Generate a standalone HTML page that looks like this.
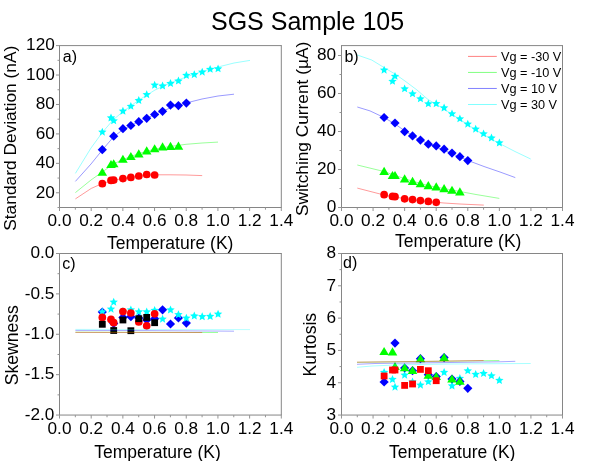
<!DOCTYPE html>
<html><head><meta charset="utf-8"><title>SGS Sample 105</title>
<style>
html,body{margin:0;padding:0;background:#fff;}
svg{display:block;will-change:transform;}
text{font-family:"Liberation Sans",sans-serif;}
</style></head>
<body>
<svg width="599" height="461" viewBox="0 0 599 461">
<rect x="0" y="0" width="599" height="461" fill="#fff"/>
<g font-family="'Liberation Sans', sans-serif" fill="#000">
<line x1="59" y1="45.6" x2="281.8" y2="45.6" stroke="#868686" stroke-width="1"/>
<line x1="59" y1="207.5" x2="281.8" y2="207.5" stroke="#868686" stroke-width="1"/>
<line x1="59.5" y1="45.6" x2="59.5" y2="207.5" stroke="#868686" stroke-width="1"/>
<line x1="281.3" y1="45.6" x2="281.3" y2="207.5" stroke="#868686" stroke-width="1"/>
<line x1="59.5" y1="207.5" x2="59.5" y2="211" stroke="#949494" stroke-width="1"/>
<text x="59.5" y="226.2" font-size="17.2" text-anchor="middle" >0.0</text>
<line x1="75.34" y1="207.5" x2="75.34" y2="209.7" stroke="#949494" stroke-width="1"/>
<line x1="91.19" y1="207.5" x2="91.19" y2="211" stroke="#949494" stroke-width="1"/>
<text x="91.19" y="226.2" font-size="17.2" text-anchor="middle" >0.2</text>
<line x1="107.03" y1="207.5" x2="107.03" y2="209.7" stroke="#949494" stroke-width="1"/>
<line x1="122.87" y1="207.5" x2="122.87" y2="211" stroke="#949494" stroke-width="1"/>
<text x="122.87" y="226.2" font-size="17.2" text-anchor="middle" >0.4</text>
<line x1="138.71" y1="207.5" x2="138.71" y2="209.7" stroke="#949494" stroke-width="1"/>
<line x1="154.56" y1="207.5" x2="154.56" y2="211" stroke="#949494" stroke-width="1"/>
<text x="154.56" y="226.2" font-size="17.2" text-anchor="middle" >0.6</text>
<line x1="170.4" y1="207.5" x2="170.4" y2="209.7" stroke="#949494" stroke-width="1"/>
<line x1="186.24" y1="207.5" x2="186.24" y2="211" stroke="#949494" stroke-width="1"/>
<text x="186.24" y="226.2" font-size="17.2" text-anchor="middle" >0.8</text>
<line x1="202.09" y1="207.5" x2="202.09" y2="209.7" stroke="#949494" stroke-width="1"/>
<line x1="217.93" y1="207.5" x2="217.93" y2="211" stroke="#949494" stroke-width="1"/>
<text x="217.93" y="226.2" font-size="17.2" text-anchor="middle" >1.0</text>
<line x1="233.77" y1="207.5" x2="233.77" y2="209.7" stroke="#949494" stroke-width="1"/>
<line x1="249.61" y1="207.5" x2="249.61" y2="211" stroke="#949494" stroke-width="1"/>
<text x="249.61" y="226.2" font-size="17.2" text-anchor="middle" >1.2</text>
<line x1="265.46" y1="207.5" x2="265.46" y2="209.7" stroke="#949494" stroke-width="1"/>
<line x1="281.3" y1="207.5" x2="281.3" y2="211" stroke="#949494" stroke-width="1"/>
<text x="281.3" y="226.2" font-size="17.2" text-anchor="middle" >1.4</text>
<line x1="56" y1="192.78" x2="59.5" y2="192.78" stroke="#949494" stroke-width="1"/>
<text x="54.8" y="197.58" font-size="17.2" text-anchor="end" >20</text>
<line x1="56" y1="163.35" x2="59.5" y2="163.35" stroke="#949494" stroke-width="1"/>
<text x="54.8" y="168.15" font-size="17.2" text-anchor="end" >40</text>
<line x1="56" y1="133.91" x2="59.5" y2="133.91" stroke="#949494" stroke-width="1"/>
<text x="54.8" y="138.71" font-size="17.2" text-anchor="end" >60</text>
<line x1="56" y1="104.47" x2="59.5" y2="104.47" stroke="#949494" stroke-width="1"/>
<text x="54.8" y="109.27" font-size="17.2" text-anchor="end" >80</text>
<line x1="56" y1="75.04" x2="59.5" y2="75.04" stroke="#949494" stroke-width="1"/>
<text x="54.8" y="79.84" font-size="17.2" text-anchor="end" >100</text>
<line x1="56" y1="45.6" x2="59.5" y2="45.6" stroke="#949494" stroke-width="1"/>
<text x="54.8" y="50.4" font-size="17.2" text-anchor="end" >120</text>
<line x1="57.5" y1="207.5" x2="59.5" y2="207.5" stroke="#949494" stroke-width="1"/>
<line x1="57.5" y1="178.06" x2="59.5" y2="178.06" stroke="#949494" stroke-width="1"/>
<line x1="57.5" y1="148.63" x2="59.5" y2="148.63" stroke="#949494" stroke-width="1"/>
<line x1="57.5" y1="119.19" x2="59.5" y2="119.19" stroke="#949494" stroke-width="1"/>
<line x1="57.5" y1="89.75" x2="59.5" y2="89.75" stroke="#949494" stroke-width="1"/>
<line x1="57.5" y1="60.32" x2="59.5" y2="60.32" stroke="#949494" stroke-width="1"/>
<line x1="341" y1="45.6" x2="563" y2="45.6" stroke="#868686" stroke-width="1"/>
<line x1="341" y1="207.5" x2="563" y2="207.5" stroke="#868686" stroke-width="1"/>
<line x1="341.5" y1="45.6" x2="341.5" y2="207.5" stroke="#868686" stroke-width="1"/>
<line x1="562.5" y1="45.6" x2="562.5" y2="207.5" stroke="#868686" stroke-width="1"/>
<line x1="341.5" y1="207.5" x2="341.5" y2="211" stroke="#949494" stroke-width="1"/>
<text x="341.5" y="226.2" font-size="17.2" text-anchor="middle" >0.0</text>
<line x1="357.29" y1="207.5" x2="357.29" y2="209.7" stroke="#949494" stroke-width="1"/>
<line x1="373.07" y1="207.5" x2="373.07" y2="211" stroke="#949494" stroke-width="1"/>
<text x="373.07" y="226.2" font-size="17.2" text-anchor="middle" >0.2</text>
<line x1="388.86" y1="207.5" x2="388.86" y2="209.7" stroke="#949494" stroke-width="1"/>
<line x1="404.64" y1="207.5" x2="404.64" y2="211" stroke="#949494" stroke-width="1"/>
<text x="404.64" y="226.2" font-size="17.2" text-anchor="middle" >0.4</text>
<line x1="420.43" y1="207.5" x2="420.43" y2="209.7" stroke="#949494" stroke-width="1"/>
<line x1="436.21" y1="207.5" x2="436.21" y2="211" stroke="#949494" stroke-width="1"/>
<text x="436.21" y="226.2" font-size="17.2" text-anchor="middle" >0.6</text>
<line x1="452" y1="207.5" x2="452" y2="209.7" stroke="#949494" stroke-width="1"/>
<line x1="467.79" y1="207.5" x2="467.79" y2="211" stroke="#949494" stroke-width="1"/>
<text x="467.79" y="226.2" font-size="17.2" text-anchor="middle" >0.8</text>
<line x1="483.57" y1="207.5" x2="483.57" y2="209.7" stroke="#949494" stroke-width="1"/>
<line x1="499.36" y1="207.5" x2="499.36" y2="211" stroke="#949494" stroke-width="1"/>
<text x="499.36" y="226.2" font-size="17.2" text-anchor="middle" >1.0</text>
<line x1="515.14" y1="207.5" x2="515.14" y2="209.7" stroke="#949494" stroke-width="1"/>
<line x1="530.93" y1="207.5" x2="530.93" y2="211" stroke="#949494" stroke-width="1"/>
<text x="530.93" y="226.2" font-size="17.2" text-anchor="middle" >1.2</text>
<line x1="546.71" y1="207.5" x2="546.71" y2="209.7" stroke="#949494" stroke-width="1"/>
<line x1="562.5" y1="207.5" x2="562.5" y2="211" stroke="#949494" stroke-width="1"/>
<text x="562.5" y="226.2" font-size="17.2" text-anchor="middle" >1.4</text>
<line x1="338" y1="207.5" x2="341.5" y2="207.5" stroke="#949494" stroke-width="1"/>
<text x="336.2" y="212.3" font-size="17.2" text-anchor="end" >0</text>
<line x1="338" y1="169.5" x2="341.5" y2="169.5" stroke="#949494" stroke-width="1"/>
<text x="336.2" y="174.3" font-size="17.2" text-anchor="end" >20</text>
<line x1="338" y1="131.5" x2="341.5" y2="131.5" stroke="#949494" stroke-width="1"/>
<text x="336.2" y="136.3" font-size="17.2" text-anchor="end" >40</text>
<line x1="338" y1="93.5" x2="341.5" y2="93.5" stroke="#949494" stroke-width="1"/>
<text x="336.2" y="98.3" font-size="17.2" text-anchor="end" >60</text>
<line x1="338" y1="55.5" x2="341.5" y2="55.5" stroke="#949494" stroke-width="1"/>
<text x="336.2" y="60.3" font-size="17.2" text-anchor="end" >80</text>
<line x1="339.5" y1="188.5" x2="341.5" y2="188.5" stroke="#949494" stroke-width="1"/>
<line x1="339.5" y1="150.5" x2="341.5" y2="150.5" stroke="#949494" stroke-width="1"/>
<line x1="339.5" y1="112.5" x2="341.5" y2="112.5" stroke="#949494" stroke-width="1"/>
<line x1="339.5" y1="74.5" x2="341.5" y2="74.5" stroke="#949494" stroke-width="1"/>
<line x1="59" y1="253.5" x2="281.8" y2="253.5" stroke="#868686" stroke-width="1"/>
<line x1="59" y1="415.05" x2="281.8" y2="415.05" stroke="#868686" stroke-width="1"/>
<line x1="59.5" y1="253.5" x2="59.5" y2="415.05" stroke="#868686" stroke-width="1"/>
<line x1="281.3" y1="253.5" x2="281.3" y2="415.05" stroke="#868686" stroke-width="1"/>
<line x1="59.5" y1="415.05" x2="59.5" y2="418.55" stroke="#949494" stroke-width="1"/>
<text x="59.5" y="434.2" font-size="17.2" text-anchor="middle" >0.0</text>
<line x1="75.34" y1="415.05" x2="75.34" y2="417.25" stroke="#949494" stroke-width="1"/>
<line x1="91.19" y1="415.05" x2="91.19" y2="418.55" stroke="#949494" stroke-width="1"/>
<text x="91.19" y="434.2" font-size="17.2" text-anchor="middle" >0.2</text>
<line x1="107.03" y1="415.05" x2="107.03" y2="417.25" stroke="#949494" stroke-width="1"/>
<line x1="122.87" y1="415.05" x2="122.87" y2="418.55" stroke="#949494" stroke-width="1"/>
<text x="122.87" y="434.2" font-size="17.2" text-anchor="middle" >0.4</text>
<line x1="138.71" y1="415.05" x2="138.71" y2="417.25" stroke="#949494" stroke-width="1"/>
<line x1="154.56" y1="415.05" x2="154.56" y2="418.55" stroke="#949494" stroke-width="1"/>
<text x="154.56" y="434.2" font-size="17.2" text-anchor="middle" >0.6</text>
<line x1="170.4" y1="415.05" x2="170.4" y2="417.25" stroke="#949494" stroke-width="1"/>
<line x1="186.24" y1="415.05" x2="186.24" y2="418.55" stroke="#949494" stroke-width="1"/>
<text x="186.24" y="434.2" font-size="17.2" text-anchor="middle" >0.8</text>
<line x1="202.09" y1="415.05" x2="202.09" y2="417.25" stroke="#949494" stroke-width="1"/>
<line x1="217.93" y1="415.05" x2="217.93" y2="418.55" stroke="#949494" stroke-width="1"/>
<text x="217.93" y="434.2" font-size="17.2" text-anchor="middle" >1.0</text>
<line x1="233.77" y1="415.05" x2="233.77" y2="417.25" stroke="#949494" stroke-width="1"/>
<line x1="249.61" y1="415.05" x2="249.61" y2="418.55" stroke="#949494" stroke-width="1"/>
<text x="249.61" y="434.2" font-size="17.2" text-anchor="middle" >1.2</text>
<line x1="265.46" y1="415.05" x2="265.46" y2="417.25" stroke="#949494" stroke-width="1"/>
<line x1="281.3" y1="415.05" x2="281.3" y2="418.55" stroke="#949494" stroke-width="1"/>
<text x="281.3" y="434.2" font-size="17.2" text-anchor="middle" >1.4</text>
<line x1="56" y1="253.5" x2="59.5" y2="253.5" stroke="#949494" stroke-width="1"/>
<text x="54.4" y="258.3" font-size="17.2" text-anchor="end" >0.0</text>
<line x1="56" y1="293.89" x2="59.5" y2="293.89" stroke="#949494" stroke-width="1"/>
<text x="54.4" y="298.69" font-size="17.2" text-anchor="end" >-0.5</text>
<line x1="56" y1="334.27" x2="59.5" y2="334.27" stroke="#949494" stroke-width="1"/>
<text x="54.4" y="339.07" font-size="17.2" text-anchor="end" >-1.0</text>
<line x1="56" y1="374.66" x2="59.5" y2="374.66" stroke="#949494" stroke-width="1"/>
<text x="54.4" y="379.46" font-size="17.2" text-anchor="end" >-1.5</text>
<line x1="56" y1="415.05" x2="59.5" y2="415.05" stroke="#949494" stroke-width="1"/>
<text x="54.4" y="419.85" font-size="17.2" text-anchor="end" >-2.0</text>
<line x1="57.5" y1="273.69" x2="59.5" y2="273.69" stroke="#949494" stroke-width="1"/>
<line x1="57.5" y1="314.08" x2="59.5" y2="314.08" stroke="#949494" stroke-width="1"/>
<line x1="57.5" y1="354.47" x2="59.5" y2="354.47" stroke="#949494" stroke-width="1"/>
<line x1="57.5" y1="394.86" x2="59.5" y2="394.86" stroke="#949494" stroke-width="1"/>
<line x1="341" y1="253.5" x2="563" y2="253.5" stroke="#868686" stroke-width="1"/>
<line x1="341" y1="415.05" x2="563" y2="415.05" stroke="#868686" stroke-width="1"/>
<line x1="341.5" y1="253.5" x2="341.5" y2="415.05" stroke="#868686" stroke-width="1"/>
<line x1="562.5" y1="253.5" x2="562.5" y2="415.05" stroke="#868686" stroke-width="1"/>
<line x1="341.5" y1="415.05" x2="341.5" y2="418.55" stroke="#949494" stroke-width="1"/>
<text x="341.5" y="434.2" font-size="17.2" text-anchor="middle" >0.0</text>
<line x1="357.29" y1="415.05" x2="357.29" y2="417.25" stroke="#949494" stroke-width="1"/>
<line x1="373.07" y1="415.05" x2="373.07" y2="418.55" stroke="#949494" stroke-width="1"/>
<text x="373.07" y="434.2" font-size="17.2" text-anchor="middle" >0.2</text>
<line x1="388.86" y1="415.05" x2="388.86" y2="417.25" stroke="#949494" stroke-width="1"/>
<line x1="404.64" y1="415.05" x2="404.64" y2="418.55" stroke="#949494" stroke-width="1"/>
<text x="404.64" y="434.2" font-size="17.2" text-anchor="middle" >0.4</text>
<line x1="420.43" y1="415.05" x2="420.43" y2="417.25" stroke="#949494" stroke-width="1"/>
<line x1="436.21" y1="415.05" x2="436.21" y2="418.55" stroke="#949494" stroke-width="1"/>
<text x="436.21" y="434.2" font-size="17.2" text-anchor="middle" >0.6</text>
<line x1="452" y1="415.05" x2="452" y2="417.25" stroke="#949494" stroke-width="1"/>
<line x1="467.79" y1="415.05" x2="467.79" y2="418.55" stroke="#949494" stroke-width="1"/>
<text x="467.79" y="434.2" font-size="17.2" text-anchor="middle" >0.8</text>
<line x1="483.57" y1="415.05" x2="483.57" y2="417.25" stroke="#949494" stroke-width="1"/>
<line x1="499.36" y1="415.05" x2="499.36" y2="418.55" stroke="#949494" stroke-width="1"/>
<text x="499.36" y="434.2" font-size="17.2" text-anchor="middle" >1.0</text>
<line x1="515.14" y1="415.05" x2="515.14" y2="417.25" stroke="#949494" stroke-width="1"/>
<line x1="530.93" y1="415.05" x2="530.93" y2="418.55" stroke="#949494" stroke-width="1"/>
<text x="530.93" y="434.2" font-size="17.2" text-anchor="middle" >1.2</text>
<line x1="546.71" y1="415.05" x2="546.71" y2="417.25" stroke="#949494" stroke-width="1"/>
<line x1="562.5" y1="415.05" x2="562.5" y2="418.55" stroke="#949494" stroke-width="1"/>
<text x="562.5" y="434.2" font-size="17.2" text-anchor="middle" >1.4</text>
<line x1="338" y1="415.05" x2="341.5" y2="415.05" stroke="#949494" stroke-width="1"/>
<text x="336" y="419.85" font-size="17.2" text-anchor="end" >3</text>
<line x1="338" y1="382.74" x2="341.5" y2="382.74" stroke="#949494" stroke-width="1"/>
<text x="336" y="387.54" font-size="17.2" text-anchor="end" >4</text>
<line x1="338" y1="350.43" x2="341.5" y2="350.43" stroke="#949494" stroke-width="1"/>
<text x="336" y="355.23" font-size="17.2" text-anchor="end" >5</text>
<line x1="338" y1="318.12" x2="341.5" y2="318.12" stroke="#949494" stroke-width="1"/>
<text x="336" y="322.92" font-size="17.2" text-anchor="end" >6</text>
<line x1="338" y1="285.81" x2="341.5" y2="285.81" stroke="#949494" stroke-width="1"/>
<text x="336" y="290.61" font-size="17.2" text-anchor="end" >7</text>
<line x1="338" y1="253.5" x2="341.5" y2="253.5" stroke="#949494" stroke-width="1"/>
<text x="336" y="258.3" font-size="17.2" text-anchor="end" >8</text>
<line x1="339.5" y1="398.89" x2="341.5" y2="398.89" stroke="#949494" stroke-width="1"/>
<line x1="339.5" y1="366.59" x2="341.5" y2="366.59" stroke="#949494" stroke-width="1"/>
<line x1="339.5" y1="334.27" x2="341.5" y2="334.27" stroke="#949494" stroke-width="1"/>
<line x1="339.5" y1="301.97" x2="341.5" y2="301.97" stroke="#949494" stroke-width="1"/>
<line x1="339.5" y1="269.65" x2="341.5" y2="269.65" stroke="#949494" stroke-width="1"/>
<text x="307.6" y="29.6" font-size="25" text-anchor="middle" >SGS Sample 105</text>
<text x="107" y="249" font-size="17.5" text-anchor="start" >Temperature (K)</text>
<text x="395" y="246.7" font-size="17.5" text-anchor="start" >Temperature (K)</text>
<text x="94.3" y="458.3" font-size="17.5" text-anchor="start" >Temperature (K)</text>
<text x="389" y="457.6" font-size="17.5" text-anchor="start" >Temperature (K)</text>
<text transform="translate(16.4,230.8) rotate(-90)" font-size="17.35">Standard Deviation (nA)</text>
<text transform="translate(307.8,216) rotate(-90)" font-size="17.3">Switching Current (&#181;A)</text>
<text transform="translate(18.1,385.3) rotate(-90)" font-size="17.6">Skewness</text>
<text transform="translate(316.2,376.4) rotate(-90)" font-size="17.6">Kurtosis</text>
<text x="62.8" y="61.8" font-size="16" text-anchor="start" >a)</text>
<text x="344.4" y="62" font-size="16" text-anchor="start" >b)</text>
<text x="62.3" y="269" font-size="16" text-anchor="start" >c)</text>
<text x="343.1" y="268.2" font-size="16" text-anchor="start" >d)</text>
<polyline points="468,56.4 496.8,56.4" fill="none" stroke="#ff0000" stroke-width="0.5" stroke-opacity="1"/>
<text x="501" y="60.6" font-size="12.7" text-anchor="start" >Vg = -30 V</text>
<polyline points="468,72.43 496.8,72.43" fill="none" stroke="#00ff00" stroke-width="0.5" stroke-opacity="1"/>
<text x="501" y="76.6" font-size="12.7" text-anchor="start" >Vg = -10 V</text>
<polyline points="468,88.46 496.8,88.46" fill="none" stroke="#0000ff" stroke-width="0.5" stroke-opacity="1"/>
<text x="501" y="92.6" font-size="12.7" text-anchor="start" >Vg = 10 V</text>
<polyline points="468,104.49 496.8,104.49" fill="none" stroke="#00ffff" stroke-width="0.5" stroke-opacity="1"/>
<text x="501" y="108.6" font-size="12.7" text-anchor="start" >Vg = 30 V</text>
<polygon points="102.31,127.7 103.5,130.46 106.5,130.74 104.24,132.73 104.9,135.66 102.31,134.12 99.73,135.66 100.39,132.73 98.13,130.74 101.12,130.46" fill="#00ffff"/>
<polygon points="111,113.5 112.19,116.26 115.18,116.54 112.92,118.53 113.59,121.46 111,119.92 108.41,121.46 109.08,118.53 106.82,116.54 109.81,116.26" fill="#00ffff"/>
<polygon points="113.7,116.4 114.89,119.16 117.88,119.44 115.62,121.43 116.29,124.36 113.7,122.82 111.11,124.36 111.78,121.43 109.52,119.44 112.51,119.16" fill="#00ffff"/>
<polygon points="122.93,106.8 124.12,109.56 127.11,109.84 124.85,111.83 125.51,114.76 122.93,113.22 120.34,114.76 121,111.83 118.74,109.84 121.74,109.56" fill="#00ffff"/>
<polygon points="130.86,101.9 132.05,104.66 135.04,104.94 132.78,106.93 133.44,109.86 130.86,108.32 128.27,109.86 128.93,106.93 126.67,104.94 129.67,104.66" fill="#00ffff"/>
<polygon points="138.78,96.1 139.97,98.86 142.97,99.14 140.71,101.13 141.37,104.06 138.78,102.52 136.2,104.06 136.86,101.13 134.6,99.14 137.6,98.86" fill="#00ffff"/>
<polygon points="146.71,90.2 147.9,92.96 150.9,93.24 148.64,95.23 149.3,98.16 146.71,96.62 144.13,98.16 144.79,95.23 142.53,93.24 145.52,92.96" fill="#00ffff"/>
<polygon points="154.64,80.8 155.83,83.56 158.83,83.84 156.57,85.83 157.23,88.76 154.64,87.22 152.06,88.76 152.72,85.83 150.46,83.84 153.45,83.56" fill="#00ffff"/>
<polygon points="162.57,81.6 163.76,84.36 166.76,84.64 164.5,86.63 165.16,89.56 162.57,88.02 159.98,89.56 160.65,86.63 158.39,84.64 161.38,84.36" fill="#00ffff"/>
<polygon points="170.5,79.1 171.69,81.86 174.68,82.14 172.42,84.13 173.09,87.06 170.5,85.52 167.91,87.06 168.57,84.13 166.31,82.14 169.31,81.86" fill="#00ffff"/>
<polygon points="178.43,76.6 179.62,79.36 182.61,79.64 180.35,81.63 181.01,84.56 178.43,83.02 175.84,84.56 176.5,81.63 174.24,79.64 177.24,79.36" fill="#00ffff"/>
<polygon points="186.36,71 187.55,73.76 190.54,74.04 188.28,76.03 188.94,78.96 186.36,77.42 183.77,78.96 184.43,76.03 182.17,74.04 185.17,73.76" fill="#00ffff"/>
<polygon points="194.28,70.2 195.47,72.96 198.47,73.24 196.21,75.23 196.87,78.16 194.28,76.62 191.7,78.16 192.36,75.23 190.1,73.24 193.09,72.96" fill="#00ffff"/>
<polygon points="202.21,67.7 203.4,70.46 206.4,70.74 204.14,72.73 204.8,75.66 202.21,74.12 199.63,75.66 200.29,72.73 198.03,70.74 201.02,70.46" fill="#00ffff"/>
<polygon points="210.14,64.9 211.33,67.66 214.33,67.94 212.07,69.93 212.73,72.86 210.14,71.32 207.56,72.86 208.22,69.93 205.96,67.94 208.95,67.66" fill="#00ffff"/>
<polygon points="218.07,64.4 219.26,67.16 222.25,67.44 219.99,69.43 220.66,72.36 218.07,70.82 215.48,72.36 216.15,69.43 213.89,67.44 216.88,67.16" fill="#00ffff"/>
<polygon points="102.31,145.1 106.91,149.7 102.31,154.3 97.71,149.7" fill="#0000ff"/>
<polygon points="113.7,131.6 118.3,136.2 113.7,140.8 109.1,136.2" fill="#0000ff"/>
<polygon points="122.93,124.1 127.53,128.7 122.93,133.3 118.33,128.7" fill="#0000ff"/>
<polygon points="130.86,120.9 135.46,125.5 130.86,130.1 126.26,125.5" fill="#0000ff"/>
<polygon points="138.78,117.1 143.38,121.7 138.78,126.3 134.19,121.7" fill="#0000ff"/>
<polygon points="146.71,113.7 151.31,118.3 146.71,122.9 142.11,118.3" fill="#0000ff"/>
<polygon points="154.64,109.9 159.24,114.5 154.64,119.1 150.04,114.5" fill="#0000ff"/>
<polygon points="162.57,106.7 167.17,111.3 162.57,115.9 157.97,111.3" fill="#0000ff"/>
<polygon points="170.5,100.5 175.1,105.1 170.5,109.7 165.9,105.1" fill="#0000ff"/>
<polygon points="178.43,101 183.03,105.6 178.43,110.2 173.83,105.6" fill="#0000ff"/>
<polygon points="186.36,98.5 190.96,103.1 186.36,107.7 181.76,103.1" fill="#0000ff"/>
<polygon points="102.31,167.65 107.11,175.75 97.51,175.75" fill="#00ff00"/>
<polygon points="111,159.95 115.8,168.05 106.2,168.05" fill="#00ff00"/>
<polygon points="113.7,159.25 118.5,167.35 108.9,167.35" fill="#00ff00"/>
<polygon points="122.93,154.75 127.73,162.85 118.13,162.85" fill="#00ff00"/>
<polygon points="130.86,151.95 135.66,160.05 126.06,160.05" fill="#00ff00"/>
<polygon points="138.78,149.35 143.59,157.45 133.98,157.45" fill="#00ff00"/>
<polygon points="146.71,146.35 151.51,154.45 141.91,154.45" fill="#00ff00"/>
<polygon points="154.64,144.15 159.44,152.25 149.84,152.25" fill="#00ff00"/>
<polygon points="162.57,142.35 167.37,150.45 157.77,150.45" fill="#00ff00"/>
<polygon points="170.5,141.85 175.3,149.95 165.7,149.95" fill="#00ff00"/>
<polygon points="178.43,141.55 183.23,149.65 173.63,149.65" fill="#00ff00"/>
<circle cx="102.31" cy="183.7" r="3.85" fill="#ff0000"/>
<circle cx="111" cy="180.4" r="3.85" fill="#ff0000"/>
<circle cx="113.7" cy="180.1" r="3.85" fill="#ff0000"/>
<circle cx="122.93" cy="178.6" r="3.85" fill="#ff0000"/>
<circle cx="130.86" cy="177.4" r="3.85" fill="#ff0000"/>
<circle cx="138.78" cy="176" r="3.85" fill="#ff0000"/>
<circle cx="146.71" cy="174.5" r="3.85" fill="#ff0000"/>
<circle cx="154.64" cy="175" r="3.85" fill="#ff0000"/>
<polygon points="384.12,65.7 385.31,68.46 388.31,68.74 386.05,70.73 386.71,73.66 384.12,72.12 381.54,73.66 382.2,70.73 379.94,68.74 382.93,68.46" fill="#00ffff"/>
<polygon points="392.5,76.9 393.69,79.66 396.68,79.94 394.42,81.93 395.09,84.86 392.5,83.32 389.91,84.86 390.58,81.93 388.32,79.94 391.31,79.66" fill="#00ffff"/>
<polygon points="395,71.9 396.19,74.66 399.18,74.94 396.92,76.93 397.59,79.86 395,78.32 392.41,79.86 393.08,76.93 390.82,74.94 393.81,74.66" fill="#00ffff"/>
<polygon points="404.64,84.4 405.83,87.16 408.83,87.44 406.57,89.43 407.23,92.36 404.64,90.82 402.06,92.36 402.72,89.43 400.46,87.44 403.45,87.16" fill="#00ffff"/>
<polygon points="412.54,89.4 413.73,92.16 416.72,92.44 414.46,94.43 415.12,97.36 412.54,95.82 409.95,97.36 410.61,94.43 408.35,92.44 411.35,92.16" fill="#00ffff"/>
<polygon points="420.43,94.4 421.62,97.16 424.61,97.44 422.35,99.43 423.02,102.36 420.43,100.82 417.84,102.36 418.51,99.43 416.25,97.44 419.24,97.16" fill="#00ffff"/>
<polygon points="428.32,99.4 429.51,102.16 432.51,102.44 430.25,104.43 430.91,107.36 428.32,105.82 425.74,107.36 426.4,104.43 424.14,102.44 427.13,102.16" fill="#00ffff"/>
<polygon points="436.22,99.3 437.41,102.06 440.4,102.34 438.14,104.33 438.8,107.26 436.22,105.72 433.63,107.26 434.29,104.33 432.03,102.34 435.03,102.06" fill="#00ffff"/>
<polygon points="444.11,103.5 445.3,106.26 448.29,106.54 446.03,108.53 446.7,111.46 444.11,109.92 441.52,111.46 442.18,108.53 439.92,106.54 442.92,106.26" fill="#00ffff"/>
<polygon points="452,109.4 453.19,112.16 456.19,112.44 453.93,114.43 454.59,117.36 452,115.82 449.42,117.36 450.08,114.43 447.82,112.44 450.81,112.16" fill="#00ffff"/>
<polygon points="459.89,114.4 461.08,117.16 464.08,117.44 461.82,119.43 462.48,122.36 459.89,120.82 457.31,122.36 457.97,119.43 455.71,117.44 458.71,117.16" fill="#00ffff"/>
<polygon points="467.79,119.7 468.98,122.46 471.97,122.74 469.71,124.73 470.37,127.66 467.79,126.12 465.2,127.66 465.86,124.73 463.6,122.74 466.6,122.46" fill="#00ffff"/>
<polygon points="475.68,124.7 476.87,127.46 479.87,127.74 477.61,129.73 478.27,132.66 475.68,131.12 473.09,132.66 473.76,129.73 471.5,127.74 474.49,127.46" fill="#00ffff"/>
<polygon points="483.57,129.4 484.76,132.16 487.76,132.44 485.5,134.43 486.16,137.36 483.57,135.82 480.99,137.36 481.65,134.43 479.39,132.44 482.38,132.16" fill="#00ffff"/>
<polygon points="491.47,133.6 492.66,136.36 495.65,136.64 493.39,138.63 494.05,141.56 491.47,140.02 488.88,141.56 489.54,138.63 487.28,136.64 490.28,136.36" fill="#00ffff"/>
<polygon points="499.36,138.5 500.55,141.26 503.54,141.54 501.28,143.53 501.95,146.46 499.36,144.92 496.77,146.46 497.44,143.53 495.18,141.54 498.17,141.26" fill="#00ffff"/>
<polygon points="384.12,112.9 388.72,117.5 384.12,122.1 379.52,117.5" fill="#0000ff"/>
<polygon points="395,118.4 399.6,123 395,127.6 390.4,123" fill="#0000ff"/>
<polygon points="404.64,127.1 409.24,131.7 404.64,136.3 400.04,131.7" fill="#0000ff"/>
<polygon points="412.54,131.3 417.14,135.9 412.54,140.5 407.94,135.9" fill="#0000ff"/>
<polygon points="420.43,135.5 425.03,140.1 420.43,144.7 415.83,140.1" fill="#0000ff"/>
<polygon points="428.32,139.6 432.92,144.2 428.32,148.8 423.72,144.2" fill="#0000ff"/>
<polygon points="436.22,141.3 440.82,145.9 436.22,150.5 431.62,145.9" fill="#0000ff"/>
<polygon points="444.11,144.6 448.71,149.2 444.11,153.8 439.51,149.2" fill="#0000ff"/>
<polygon points="452,148.5 456.6,153.1 452,157.7 447.4,153.1" fill="#0000ff"/>
<polygon points="459.89,152.1 464.5,156.7 459.89,161.3 455.29,156.7" fill="#0000ff"/>
<polygon points="467.79,156 472.39,160.6 467.79,165.2 463.19,160.6" fill="#0000ff"/>
<polygon points="384.12,166.85 388.92,174.95 379.32,174.95" fill="#00ff00"/>
<polygon points="392.5,170.95 397.3,179.05 387.7,179.05" fill="#00ff00"/>
<polygon points="395,170.95 399.8,179.05 390.2,179.05" fill="#00ff00"/>
<polygon points="404.64,174.35 409.44,182.45 399.84,182.45" fill="#00ff00"/>
<polygon points="412.54,176.85 417.34,184.95 407.74,184.95" fill="#00ff00"/>
<polygon points="420.43,179.05 425.23,187.15 415.63,187.15" fill="#00ff00"/>
<polygon points="428.32,181.05 433.12,189.15 423.52,189.15" fill="#00ff00"/>
<polygon points="436.22,182.35 441.02,190.45 431.42,190.45" fill="#00ff00"/>
<polygon points="444.11,184.05 448.91,192.15 439.31,192.15" fill="#00ff00"/>
<polygon points="452,185.65 456.8,193.75 447.2,193.75" fill="#00ff00"/>
<polygon points="459.89,187.35 464.69,195.45 455.09,195.45" fill="#00ff00"/>
<circle cx="384.12" cy="194.7" r="3.85" fill="#ff0000"/>
<circle cx="392.5" cy="196.4" r="3.85" fill="#ff0000"/>
<circle cx="395" cy="196.7" r="3.85" fill="#ff0000"/>
<circle cx="404.64" cy="198.8" r="3.85" fill="#ff0000"/>
<circle cx="412.54" cy="199.6" r="3.85" fill="#ff0000"/>
<circle cx="420.43" cy="200.6" r="3.85" fill="#ff0000"/>
<circle cx="428.32" cy="201.4" r="3.85" fill="#ff0000"/>
<circle cx="436.22" cy="202.3" r="3.85" fill="#ff0000"/>
<polygon points="102.31,307.4 106.91,312 102.31,316.6 97.71,312" fill="#0000ff"/>
<polygon points="113.7,318.8 118.3,323.4 113.7,328 109.1,323.4" fill="#0000ff"/>
<polygon points="122.93,312.8 127.53,317.4 122.93,322 118.33,317.4" fill="#0000ff"/>
<polygon points="130.86,312.1 135.46,316.7 130.86,321.3 126.26,316.7" fill="#0000ff"/>
<polygon points="138.78,313.4 143.38,318 138.78,322.6 134.19,318" fill="#0000ff"/>
<polygon points="146.71,315.4 151.31,320 146.71,324.6 142.11,320" fill="#0000ff"/>
<polygon points="154.64,314.1 159.24,318.7 154.64,323.3 150.04,318.7" fill="#0000ff"/>
<polygon points="162.57,305.2 167.17,309.8 162.57,314.4 157.97,309.8" fill="#0000ff"/>
<polygon points="170.5,319.4 175.1,324 170.5,328.6 165.9,324" fill="#0000ff"/>
<polygon points="178.43,313.4 183.03,318 178.43,322.6 173.83,318" fill="#0000ff"/>
<polygon points="186.36,318.5 190.96,323.1 186.36,327.7 181.76,323.1" fill="#0000ff"/>
<polygon points="102.31,307.4 103.5,310.16 106.5,310.44 104.24,312.43 104.9,315.36 102.31,313.82 99.73,315.36 100.39,312.43 98.13,310.44 101.12,310.16" fill="#00ffff"/>
<polygon points="111,304.7 112.19,307.46 115.18,307.74 112.92,309.73 113.59,312.66 111,311.12 108.41,312.66 109.08,309.73 106.82,307.74 109.81,307.46" fill="#00ffff"/>
<polygon points="113.7,297.7 114.89,300.46 117.88,300.74 115.62,302.73 116.29,305.66 113.7,304.12 111.11,305.66 111.78,302.73 109.52,300.74 112.51,300.46" fill="#00ffff"/>
<polygon points="122.93,307 124.12,309.76 127.11,310.04 124.85,312.03 125.51,314.96 122.93,313.42 120.34,314.96 121,312.03 118.74,310.04 121.74,309.76" fill="#00ffff"/>
<polygon points="130.86,305.4 132.05,308.16 135.04,308.44 132.78,310.43 133.44,313.36 130.86,311.82 128.27,313.36 128.93,310.43 126.67,308.44 129.67,308.16" fill="#00ffff"/>
<polygon points="138.78,307.4 139.97,310.16 142.97,310.44 140.71,312.43 141.37,315.36 138.78,313.82 136.2,315.36 136.86,312.43 134.6,310.44 137.6,310.16" fill="#00ffff"/>
<polygon points="146.71,307.4 147.9,310.16 150.9,310.44 148.64,312.43 149.3,315.36 146.71,313.82 144.13,315.36 144.79,312.43 142.53,310.44 145.52,310.16" fill="#00ffff"/>
<polygon points="154.64,306 155.83,308.76 158.83,309.04 156.57,311.03 157.23,313.96 154.64,312.42 152.06,313.96 152.72,311.03 150.46,309.04 153.45,308.76" fill="#00ffff"/>
<polygon points="162.57,314.7 163.76,317.46 166.76,317.74 164.5,319.73 165.16,322.66 162.57,321.12 159.98,322.66 160.65,319.73 158.39,317.74 161.38,317.46" fill="#00ffff"/>
<polygon points="170.5,305.5 171.69,308.26 174.68,308.54 172.42,310.53 173.09,313.46 170.5,311.92 167.91,313.46 168.57,310.53 166.31,308.54 169.31,308.26" fill="#00ffff"/>
<polygon points="178.43,310.3 179.62,313.06 182.61,313.34 180.35,315.33 181.01,318.26 178.43,316.72 175.84,318.26 176.5,315.33 174.24,313.34 177.24,313.06" fill="#00ffff"/>
<polygon points="186.36,313.8 187.55,316.56 190.54,316.84 188.28,318.83 188.94,321.76 186.36,320.22 183.77,321.76 184.43,318.83 182.17,316.84 185.17,316.56" fill="#00ffff"/>
<polygon points="194.28,311.6 195.47,314.36 198.47,314.64 196.21,316.63 196.87,319.56 194.28,318.02 191.7,319.56 192.36,316.63 190.1,314.64 193.09,314.36" fill="#00ffff"/>
<polygon points="202.21,312.3 203.4,315.06 206.4,315.34 204.14,317.33 204.8,320.26 202.21,318.72 199.63,320.26 200.29,317.33 198.03,315.34 201.02,315.06" fill="#00ffff"/>
<polygon points="210.14,312 211.33,314.76 214.33,315.04 212.07,317.03 212.73,319.96 210.14,318.42 207.56,319.96 208.22,317.03 205.96,315.04 208.95,314.76" fill="#00ffff"/>
<polygon points="218.07,309.8 219.26,312.56 222.25,312.84 219.99,314.83 220.66,317.76 218.07,316.22 215.48,317.76 216.15,314.83 213.89,312.84 216.88,312.56" fill="#00ffff"/>
<circle cx="102.31" cy="317.4" r="3.85" fill="#ff0000"/>
<circle cx="111" cy="319.4" r="3.85" fill="#ff0000"/>
<circle cx="113.7" cy="322.7" r="3.85" fill="#ff0000"/>
<circle cx="122.93" cy="311.6" r="3.85" fill="#ff0000"/>
<circle cx="130.86" cy="313" r="3.85" fill="#ff0000"/>
<circle cx="138.78" cy="322" r="3.85" fill="#ff0000"/>
<circle cx="146.71" cy="325.8" r="3.85" fill="#ff0000"/>
<circle cx="154.64" cy="313.8" r="3.85" fill="#ff0000"/>
<rect x="98.91" y="320.9" width="6.8" height="6.8" fill="#000000"/>
<rect x="110.3" y="327.1" width="6.8" height="6.8" fill="#000000"/>
<rect x="119.53" y="316.6" width="6.8" height="6.8" fill="#000000"/>
<rect x="127.46" y="327.3" width="6.8" height="6.8" fill="#000000"/>
<rect x="135.38" y="315.3" width="6.8" height="6.8" fill="#000000"/>
<rect x="143.31" y="314" width="6.8" height="6.8" fill="#000000"/>
<rect x="151.24" y="319.3" width="6.8" height="6.8" fill="#000000"/>
<polygon points="384.12,368 385.31,370.76 388.31,371.04 386.05,373.03 386.71,375.96 384.12,374.42 381.54,375.96 382.2,373.03 379.94,371.04 382.93,370.76" fill="#00ffff"/>
<polygon points="392.5,375 393.69,377.76 396.68,378.04 394.42,380.03 395.09,382.96 392.5,381.42 389.91,382.96 390.58,380.03 388.32,378.04 391.31,377.76" fill="#00ffff"/>
<polygon points="395,382.7 396.19,385.46 399.18,385.74 396.92,387.73 397.59,390.66 395,389.12 392.41,390.66 393.08,387.73 390.82,385.74 393.81,385.46" fill="#00ffff"/>
<polygon points="404.64,370.7 405.83,373.46 408.83,373.74 406.57,375.73 407.23,378.66 404.64,377.12 402.06,378.66 402.72,375.73 400.46,373.74 403.45,373.46" fill="#00ffff"/>
<polygon points="412.54,377.4 413.73,380.16 416.72,380.44 414.46,382.43 415.12,385.36 412.54,383.82 409.95,385.36 410.61,382.43 408.35,380.44 411.35,380.16" fill="#00ffff"/>
<polygon points="420.43,380.7 421.62,383.46 424.61,383.74 422.35,385.73 423.02,388.66 420.43,387.12 417.84,388.66 418.51,385.73 416.25,383.74 419.24,383.46" fill="#00ffff"/>
<polygon points="428.32,377.4 429.51,380.16 432.51,380.44 430.25,382.43 430.91,385.36 428.32,383.82 425.74,385.36 426.4,382.43 424.14,380.44 427.13,380.16" fill="#00ffff"/>
<polygon points="436.22,374 437.41,376.76 440.4,377.04 438.14,379.03 438.8,381.96 436.22,380.42 433.63,381.96 434.29,379.03 432.03,377.04 435.03,376.76" fill="#00ffff"/>
<polygon points="444.11,368 445.3,370.76 448.29,371.04 446.03,373.03 446.7,375.96 444.11,374.42 441.52,375.96 442.18,373.03 439.92,371.04 442.92,370.76" fill="#00ffff"/>
<polygon points="452,381.5 453.19,384.26 456.19,384.54 453.93,386.53 454.59,389.46 452,387.92 449.42,389.46 450.08,386.53 447.82,384.54 450.81,384.26" fill="#00ffff"/>
<polygon points="459.89,374 461.08,376.76 464.08,377.04 461.82,379.03 462.48,381.96 459.89,380.42 457.31,381.96 457.97,379.03 455.71,377.04 458.71,376.76" fill="#00ffff"/>
<polygon points="467.79,366.4 468.98,369.16 471.97,369.44 469.71,371.43 470.37,374.36 467.79,372.82 465.2,374.36 465.86,371.43 463.6,369.44 466.6,369.16" fill="#00ffff"/>
<polygon points="475.68,370 476.87,372.76 479.87,373.04 477.61,375.03 478.27,377.96 475.68,376.42 473.09,377.96 473.76,375.03 471.5,373.04 474.49,372.76" fill="#00ffff"/>
<polygon points="483.57,369.1 484.76,371.86 487.76,372.14 485.5,374.13 486.16,377.06 483.57,375.52 480.99,377.06 481.65,374.13 479.39,372.14 482.38,371.86" fill="#00ffff"/>
<polygon points="491.47,371.4 492.66,374.16 495.65,374.44 493.39,376.43 494.05,379.36 491.47,377.82 488.88,379.36 489.54,376.43 487.28,374.44 490.28,374.16" fill="#00ffff"/>
<polygon points="499.36,376 500.55,378.76 503.54,379.04 501.28,381.03 501.95,383.96 499.36,382.42 496.77,383.96 497.44,381.03 495.18,379.04 498.17,378.76" fill="#00ffff"/>
<polygon points="384.12,377.4 388.72,382 384.12,386.6 379.52,382" fill="#0000ff"/>
<polygon points="395,338.5 399.6,343.1 395,347.7 390.4,343.1" fill="#0000ff"/>
<polygon points="404.64,363.4 409.24,368 404.64,372.6 400.04,368" fill="#0000ff"/>
<polygon points="412.54,366.1 417.14,370.7 412.54,375.3 407.94,370.7" fill="#0000ff"/>
<polygon points="420.43,354.1 425.03,358.7 420.43,363.3 415.83,358.7" fill="#0000ff"/>
<polygon points="428.32,370.1 432.92,374.7 428.32,379.3 423.72,374.7" fill="#0000ff"/>
<polygon points="436.22,371.9 440.82,376.5 436.22,381.1 431.62,376.5" fill="#0000ff"/>
<polygon points="444.11,353 448.71,357.6 444.11,362.2 439.51,357.6" fill="#0000ff"/>
<polygon points="452,374.4 456.6,379 452,383.6 447.4,379" fill="#0000ff"/>
<polygon points="459.89,376.8 464.5,381.4 459.89,386 455.29,381.4" fill="#0000ff"/>
<polygon points="467.79,383.7 472.39,388.3 467.79,392.9 463.19,388.3" fill="#0000ff"/>
<polygon points="384.12,346.95 388.92,355.05 379.32,355.05" fill="#00ff00"/>
<polygon points="392.5,347.35 397.3,355.45 387.7,355.45" fill="#00ff00"/>
<polygon points="395,361.95 399.8,370.05 390.2,370.05" fill="#00ff00"/>
<polygon points="404.64,363.15 409.44,371.25 399.84,371.25" fill="#00ff00"/>
<polygon points="412.54,365.95 417.34,374.05 407.74,374.05" fill="#00ff00"/>
<polygon points="420.43,354.25 425.23,362.35 415.63,362.35" fill="#00ff00"/>
<polygon points="428.32,370.65 433.12,378.75 423.52,378.75" fill="#00ff00"/>
<polygon points="436.22,371.95 441.02,380.05 431.42,380.05" fill="#00ff00"/>
<polygon points="444.11,352.95 448.91,361.05 439.31,361.05" fill="#00ff00"/>
<polygon points="452,374.45 456.8,382.55 447.2,382.55" fill="#00ff00"/>
<polygon points="459.89,376.65 464.69,384.75 455.09,384.75" fill="#00ff00"/>
<rect x="380.72" y="372.6" width="6.8" height="6.8" fill="#ff0000"/>
<rect x="389.1" y="366.6" width="6.8" height="6.8" fill="#ff0000"/>
<rect x="391.6" y="366.6" width="6.8" height="6.8" fill="#ff0000"/>
<rect x="401.24" y="382" width="6.8" height="6.8" fill="#ff0000"/>
<rect x="409.14" y="380.6" width="6.8" height="6.8" fill="#ff0000"/>
<rect x="417.03" y="366" width="6.8" height="6.8" fill="#ff0000"/>
<rect x="424.92" y="367.3" width="6.8" height="6.8" fill="#ff0000"/>
<rect x="432.82" y="377.3" width="6.8" height="6.8" fill="#ff0000"/>
<polyline points="75.4,173.4 91,148 102.3,132.5 113,120 123,111.5 139,100 155,90 170,83 186,77 202,71.5 218,67 234,63 250,60.4" fill="none" stroke="#00ffff" stroke-width="0.4" stroke-opacity="1"/>
<polyline points="75.4,181.4 91,164 102.3,150 113.4,137 123,129.5 139,121.5 155,114.5 170,108 186,103 202,99 218,96 234,94.2" fill="none" stroke="#0000ff" stroke-width="0.4" stroke-opacity="1"/>
<polyline points="75.4,192.6 91,180 102.3,172 113.4,164 123,159.5 139,153.5 155,149 170,146.5 186,144.3 202,143 218,142.1" fill="none" stroke="#00ff00" stroke-width="0.4" stroke-opacity="1"/>
<polyline points="75.4,198.9 91.3,188.4 102.3,183.5 113.4,180.3 123,178.5 139,176 155,174.8 170,174.8 186,175 202.2,175.6" fill="none" stroke="#ff0000" stroke-width="0.4" stroke-opacity="1"/>
<polyline points="357.3,55 371.7,60 384,67.5 395,74 405,81 417,90 428,99.5 444,109 460,119.5 476,130 492,139.5 499.5,143.5 515,151.5 530.7,159" fill="none" stroke="#00ffff" stroke-width="0.4" stroke-opacity="1"/>
<polyline points="357.3,107 370,110.9 384,117.5 395,124 405,131 420,140 436,147 452,153.5 468,160.5 484,166.5 500,172 515.3,177.6" fill="none" stroke="#0000ff" stroke-width="0.4" stroke-opacity="1"/>
<polyline points="357.3,165 384,171.5 395,175.5 412,181 428,185.5 444,188.5 460,191.5 476,194.5 499.3,198.4" fill="none" stroke="#00ff00" stroke-width="0.4" stroke-opacity="1"/>
<polyline points="357.3,188.1 384,195 395,197 412,199.8 428,201.6 444,203 460,204 483.8,205.1" fill="none" stroke="#ff0000" stroke-width="0.4" stroke-opacity="1"/>
<polyline points="75.4,329.4 250,329.6" fill="none" stroke="#00ffff" stroke-width="0.28" stroke-opacity="1"/>
<polyline points="75.4,330.4 150,330.6 234,331.2" fill="none" stroke="#0000ff" stroke-width="0.33" stroke-opacity="1"/>
<polyline points="75.4,332.2 218,332.5" fill="none" stroke="#00ff00" stroke-width="0.4" stroke-opacity="1"/>
<polyline points="75.4,332.4 202.2,332.5" fill="none" stroke="#ff0000" stroke-width="0.4" stroke-opacity="1"/>
<polyline points="357,367.3 372,366 400,364.8 450,364 530.7,363.5" fill="none" stroke="#00ffff" stroke-width="0.35" stroke-opacity="1"/>
<polyline points="357,364.3 375,363.5 450,362.5 500,361.8 515.3,361.3" fill="none" stroke="#0000ff" stroke-width="0.35" stroke-opacity="1"/>
<polyline points="357,362.3 420,361.5 499.4,360.5" fill="none" stroke="#00ff00" stroke-width="0.4" stroke-opacity="1"/>
<polyline points="357,362.2 420,361.5 483.6,360.5" fill="none" stroke="#ff0000" stroke-width="0.4" stroke-opacity="1"/>
</g>
</svg>
</body></html>
